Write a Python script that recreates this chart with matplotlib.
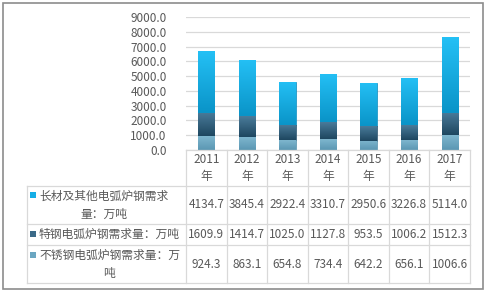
import numpy as np
import matplotlib.pyplot as plt
from matplotlib.patches import Rectangle
from matplotlib.colors import LinearSegmentedColormap

plt.rcParams['font.family'] = ['Noto Sans CJK SC', 'DejaVu Sans']

years = ['2011', '2012', '2013', '2014', '2015', '2016', '2017']
series_names = ['长材及其他电弧炉钢需求\n量：万吨', '特钢电弧炉钢需求量：万吨', '不锈钢电弧炉钢需求量：万\n吨']
long_steel = [4134.7, 3845.4, 2922.4, 3310.7, 2950.6, 3226.8, 5114.0]
special_steel = [1609.9, 1414.7, 1025.0, 1127.8, 953.5, 1006.2, 1512.3]
stainless = [924.3, 863.1, 654.8, 734.4, 642.2, 656.1, 1006.6]

colors = ['#16AEE6', '#3B6A88', '#6BA6C1']
grads = [('#24C0F5', '#0A94C8'), ('#4A7B9A', '#1E4760'), ('#7EB6CE', '#5B97B3')]
edges = ['#0E8CBE', '#2E5670', '#5A94AE']
txt = '#595959'
grid = '#D9D9D9'

W, H = 487, 292
fig = plt.figure(figsize=(W / 100, H / 100), dpi=100)

def fx(x):
    return x / W

def fy(y):
    return 1 - y / H

# plot area in pixels
L, R, T, B = 186, 470, 17, 150
ax = fig.add_axes([fx(L), fy(B), fx(R - L), fy(T) - fy(B)])
x = np.arange(len(years))
s1 = np.array(stainless)
s2 = np.array(special_steel)
s3 = np.array(long_steel)
bars = [
    ax.bar(x, s3, 0.4, bottom=s1 + s2, color=colors[0], edgecolor=edges[0], linewidth=0.5, zorder=3),
    ax.bar(x, s2, 0.4, bottom=s1, color=colors[1], edgecolor=edges[1], linewidth=0.5, zorder=3),
    ax.bar(x, s1, 0.4, color=colors[2], edgecolor=edges[2], linewidth=0.5, zorder=3),
]
# vertical gradient fill clipped to each bar
grad = np.linspace(0, 1, 64).reshape(-1, 1)
for cont, (c_top, c_bot) in zip(bars, grads):
    cmap = LinearSegmentedColormap.from_list('g', [c_bot, c_top])
    for p in cont:
        x0, y0 = p.get_x(), p.get_y()
        im = ax.imshow(grad, cmap=cmap, origin='lower', aspect='auto', zorder=3.5,
                       extent=[x0, x0 + p.get_width(), y0, y0 + p.get_height()])
        im.set_clip_path(p)

ax.set_xlim(-0.5, len(years) - 0.5)
ax.set_ylim(0, 9000)
ax.set_yticks(np.arange(0, 9001, 1000))
ax.set_yticklabels([f'{v:.1f}' for v in np.arange(0, 9001, 1000)], color=txt, fontsize=8.5)
ax.tick_params(axis='y', length=0, pad=14)
ax.set_xticks([])
ax.grid(axis='y', color=grid, linewidth=0.9, zorder=0)
for s in ax.spines.values():
    s.set_visible(False)

# data table below
col_w = (R - L) / len(years)
rows_y = [150, 186, 224, 245, 283]
lkw = dict(color=grid, linewidth=0.9, transform=fig.transFigure)
fig.add_artist(plt.Line2D([fx(L), fx(R)], [fy(150), fy(150)], **lkw))
for yy in rows_y[1:]:
    fig.add_artist(plt.Line2D([fx(27), fx(R)], [fy(yy), fy(yy)], **lkw))
fig.add_artist(plt.Line2D([fx(27), fx(27)], [fy(186), fy(283)], **lkw))
for i in range(len(years) + 1):
    xx = L + i * col_w
    fig.add_artist(plt.Line2D([fx(xx), fx(xx)], [fy(150), fy(283)], **lkw))

for i, yr in enumerate(years):
    cx = L + (i + 0.5) * col_w
    fig.text(fx(cx), fy(168), yr + '\n年', ha='center', va='center', fontsize=8.5,
             color=txt, linespacing=1.4)

table_vals = [long_steel, special_steel, stainless]
for r, (name, vals) in enumerate(zip(series_names, table_vals)):
    cy = (rows_y[r + 1] + rows_y[r + 2]) / 2
    for i, v in enumerate(vals):
        cx = L + (i + 0.5) * col_w
        fig.text(fx(cx), fy(cy), f'{v:.1f}', ha='center', va='center', fontsize=8.5, color=txt)
    fig.text(fx(39), fy(cy), name, ha='left', va='center', fontsize=8.5,
             color=txt, linespacing=1.5, multialignment='center')

# legend squares in the label column
for r, sy in enumerate([192, 231, 252]):
    fig.add_artist(Rectangle((fx(30), fy(sy + 6)), fx(6), fy(0) - fy(6), facecolor=colors[r],
                             edgecolor='none', transform=fig.transFigure))

# outer frame
fig.add_artist(Rectangle((fx(3), fy(289)), fx(480), fy(0) - fy(286), fill=False,
                         edgecolor='#8C8C8C', linewidth=1.2, transform=fig.transFigure))

fig.savefig('out.png', dpi=100)
